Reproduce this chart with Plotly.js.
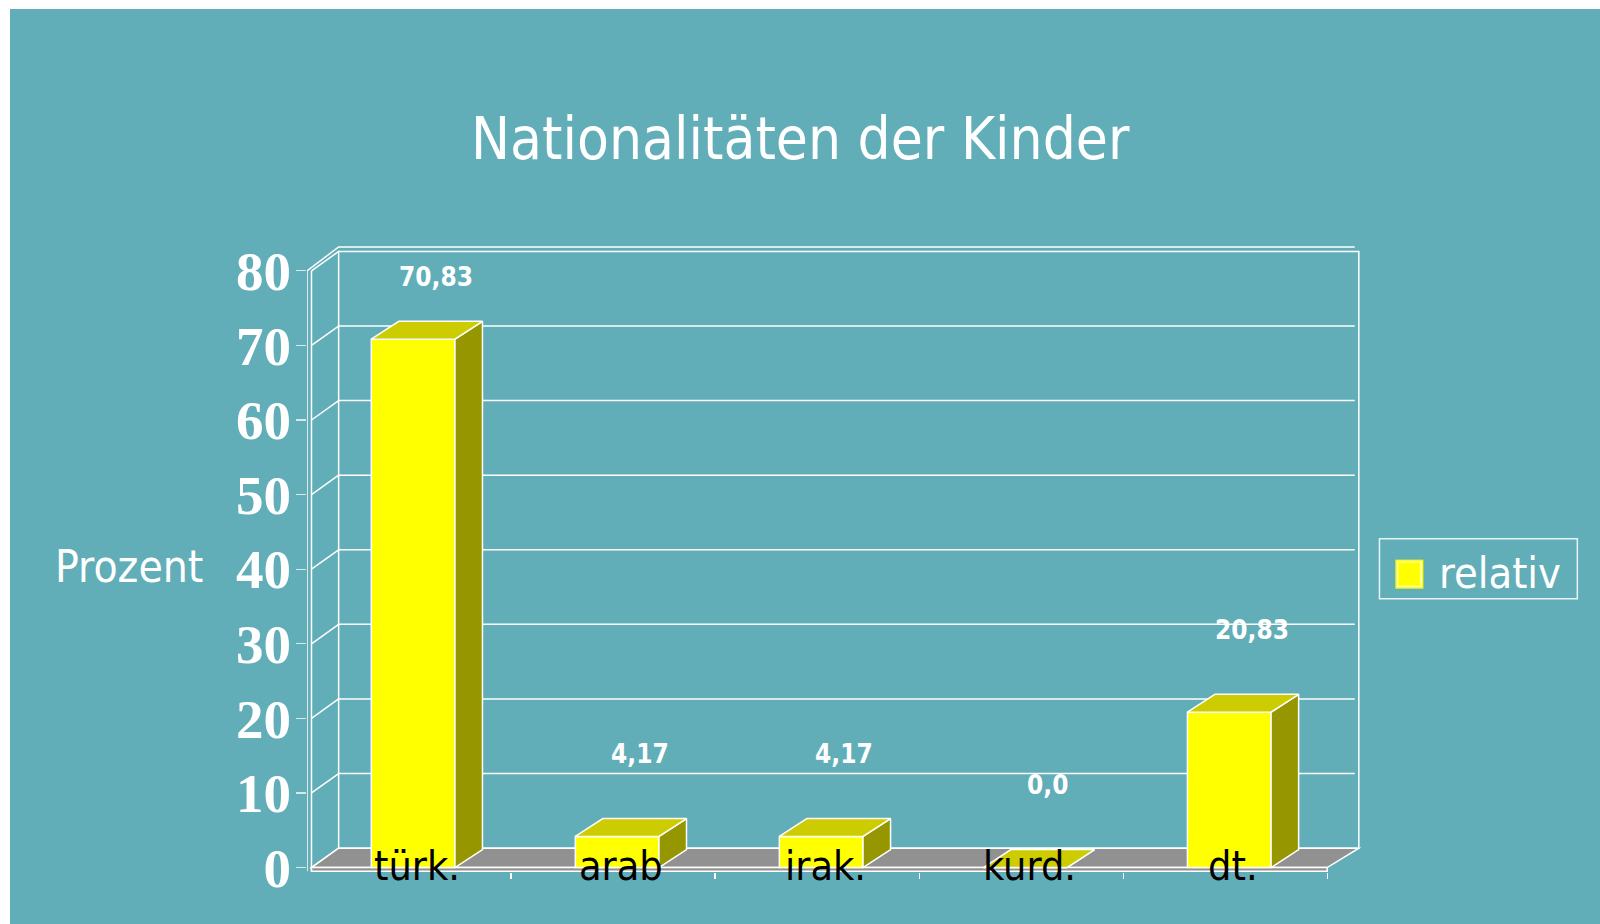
<!DOCTYPE html>
<html><head><meta charset="utf-8">
<script src="https://cdn.plot.ly/plotly-3.0.1.min.js"></script>
<style>
html,body{margin:0;padding:0;background:#fff;width:1600px;height:924px;overflow:hidden}
#chart{position:absolute;left:10px;top:9px;width:1590px;height:915px}
</style>
</head><body><div id="chart"></div>
<script>
// ---- data ----
const categories = ['türk.', 'arab', 'irak.', 'kurd.', 'dt.'];
const values = [70.83, 4.17, 4.17, 0, 20.83];
const valueLabels = ['70,83', '4,17', '4,17', '0,0', '20,83'];
const seriesName = 'relativ';
const yTicks = [0, 10, 20, 30, 40, 50, 60, 70, 80];
const titleText = 'Nationalitäten der Kinder';
const yTitleText = 'Prozent';

// ---- style / geometry ----
const TEAL = '#61aeb8';
const SANS = '"DejaVu Sans Condensed", "Liberation Sans Narrow", Lato, sans-serif';
const YELLOW = '#ffff00', TOPC = '#cccc00', SIDEC = '#969600', FLOOR = '#919191';
const idx = categories.map((_, i) => i);
const BW = 0.41, BOFF = 0.02;      // bar width / shift
const BDX = 0.135, BDY = 2.4;      // bar depth
const WDX = 0.155, WDY = 2.6;      // wall depth
const X0 = -0.5, X1 = idx.length - 0.5, YMAX = yTicks[yTicks.length - 1], SLAB = -0.5;
const WL = {color: '#ffffff', width: 1.5};

const traces = [];
traces.push({
  type: 'bar', x: idx.map(i => i + BOFF), y: values, width: BW, name: seriesName,
  marker: {color: YELLOW, line: {color: '#ffffff', width: 1.5}}, showlegend: false, hoverinfo: 'y'
});
idx.forEach(i => {
  const xl = i + BOFF - BW / 2, xr = i + BOFF + BW / 2, v = values[i];
  traces.push({ // side face
    type: 'scatter', mode: 'lines', fill: 'toself', fillcolor: SIDEC,
    x: [xr, xr + BDX, xr + BDX, xr, xr], y: [0, BDY, v + BDY, v, 0],
    line: WL, showlegend: false, hoverinfo: 'skip'
  });
  traces.push({ // top face
    type: 'scatter', mode: 'lines', fill: 'toself', fillcolor: TOPC,
    x: [xl, xl + BDX, xr + BDX, xr, xl], y: [v, v + BDY, v + BDY, v, v],
    line: WL, showlegend: false, hoverinfo: 'skip'
  });
});

const shapes = [];
// back wall
shapes.push({type: 'rect', layer: 'below', xref: 'x', yref: 'y', x0: X0 + WDX, x1: X1 + WDX, y0: WDY, y1: YMAX + WDY, line: WL});
// outer top edge
shapes.push({type: 'path', layer: 'below', xref: 'x', yref: 'y',
  path: `M ${X0},${YMAX} L ${X0 + WDX},${YMAX + WDY + 0.6} L ${X1 + WDX - 0.02},${YMAX + WDY + 0.6}`, line: WL});
// left wall verticals
shapes.push({type: 'line', layer: 'below', xref: 'x', yref: 'y', x0: X0, x1: X0, y0: SLAB, y1: YMAX, line: WL});
shapes.push({type: 'line', layer: 'below', xref: 'x', yref: 'y', x0: X0 + 0.022, x1: X0 + 0.022, y0: SLAB, y1: YMAX, line: WL});
// left wall diagonals + back gridlines
yTicks.forEach(v => {
  shapes.push({type: 'line', layer: 'below', xref: 'x', yref: 'y', x0: X0 + 0.022, x1: X0 + WDX, y0: v, y1: v + WDY, line: WL});
  if (v > 0 && v < YMAX)
    shapes.push({type: 'line', layer: 'below', xref: 'x', yref: 'y', x0: X0 + WDX, x1: X1 + WDX - 0.02, y0: v + WDY, y1: v + WDY, line: WL});
});
// floor top
shapes.push({type: 'path', layer: 'below', xref: 'x', yref: 'y', fillcolor: FLOOR,
  path: `M ${X0 + 0.022},0 L ${X1},0 L ${X1 + WDX},${WDY} L ${X0 + WDX},${WDY} Z`, line: WL});
// floor slab front
shapes.push({type: 'rect', layer: 'below', xref: 'x', yref: 'y', fillcolor: FLOOR,
  x0: X0 + 0.022, x1: X1, y0: SLAB, y1: 0, line: WL});

// legend (drawn manually)
shapes.push({type: 'rect', xref: 'paper', yref: 'paper', x0: 1.0108, x1: 1.1973, y0: 0.4332, y1: 0.5283, line: {color: '#e8f3f5', width: 1.5}});
const SX0 = 1.0258, SX1 = 1.0522, SY0 = 0.449, SY1 = 0.495;
shapes.push({type: 'rect', xref: 'paper', yref: 'paper', x0: SX0, x1: SX1, y0: SY0, y1: SY1, fillcolor: YELLOW, line: {width: 0}});
shapes.push({type: 'rect', xref: 'paper', yref: 'paper', x0: SX0 + 0.0022, x1: SX1 - 0.0022, y0: SY0 + 0.0037, y1: SY1 - 0.0037, line: {color: '#ffffff', width: 1.2}});

const annotations = [];
idx.forEach(i => {
  annotations.push({xref: 'x', yref: 'y', x: i + 0.13, y: Math.min(values[i] + 11, YMAX - 0.8), text: valueLabels[i], showarrow: false,
    xanchor: 'center', yanchor: 'middle', font: {family: SANS, size: 26, color: '#ffffff', weight: 'bold'}});
  annotations.push({xref: 'x', yref: 'y', x: i + BOFF + 0.02, y: 0, yshift: 2, text: categories[i], showarrow: false,
    xanchor: 'center', yanchor: 'middle', font: {family: SANS, size: 41, color: '#000000'}});
});
annotations.push({xref: 'paper', yref: 'paper', x: -0.168, y: 0.484, text: yTitleText, showarrow: false,
  xanchor: 'center', yanchor: 'middle', font: {family: SANS, size: 44, color: '#ffffff'}});
annotations.push({xref: 'paper', yref: 'paper', x: 1.0655, y: 0.474, text: seriesName, showarrow: false,
  xanchor: 'left', yanchor: 'middle', font: {family: SANS, size: 43, color: '#ffffff'}});

const layout = {
  width: 1590, height: 915,
  paper_bgcolor: TEAL, plot_bgcolor: 'rgba(0,0,0,0)',
  margin: {l: 296.7, r: 231.5, t: 232.2, b: 51.5, pad: 0},
  title: {text: titleText, x: 0.497, xref: 'container', xanchor: 'center', y: 0.858, yref: 'container', yanchor: 'middle',
    font: {family: SANS, size: 58, color: '#ffffff'}},
  showlegend: false,
  xaxis: {type: 'linear', range: [X0, X1 + 0.2], showgrid: false, zeroline: false, showline: false,
    tickmode: 'array', tickvals: idx.map(i => i + 0.5), showticklabels: false, ticks: 'outside', ticklen: 6,
    tickcolor: '#ffffff', tickwidth: 1.2, fixedrange: true},
  yaxis: {range: [-0.6, 84], showgrid: false, zeroline: false, showline: false,
    tickmode: 'array', tickvals: yTicks, ticktext: yTicks.map(String), ticks: 'outside', ticklen: 10,
    tickcolor: '#d6e9ec', tickwidth: 1.2, ticklabelstandoff: -6,
    tickfont: {family: '"Liberation Serif", "Times New Roman", serif', size: 55, color: '#ffffff', weight: 'bold'}, fixedrange: true},
  shapes: shapes, annotations: annotations, bargap: 0
};
Plotly.newPlot('chart', traces, layout, {displayModeBar: false, staticPlot: true});
</script>
</body></html>
